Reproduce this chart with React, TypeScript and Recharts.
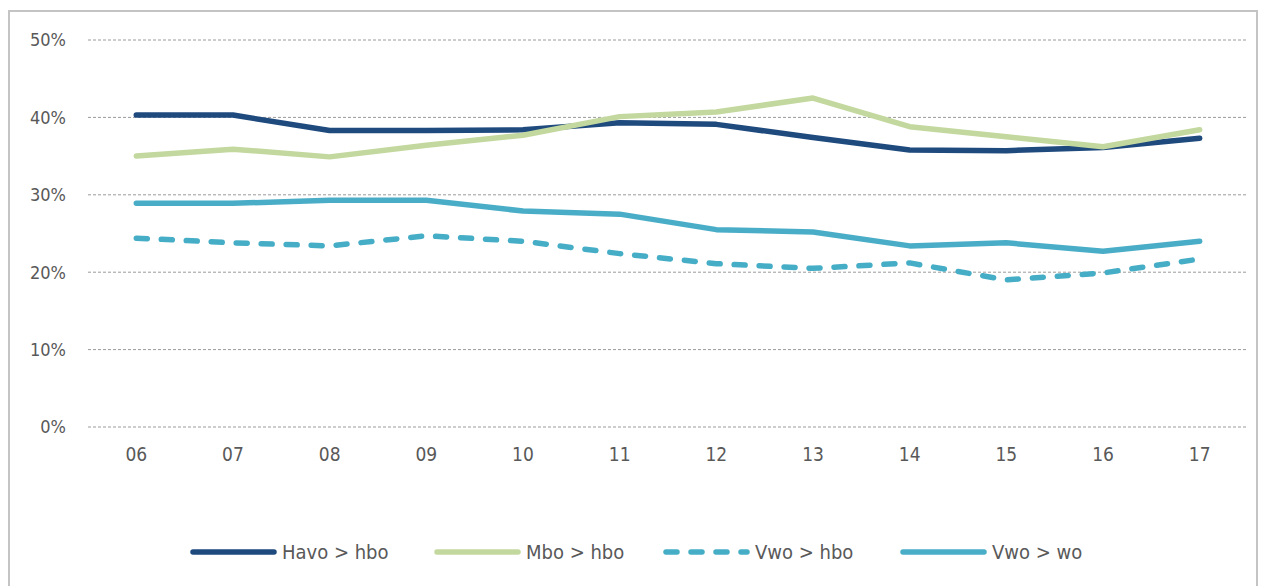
import React from "react";
import { LineChart, Line, XAxis, YAxis, CartesianGrid, Legend } from "recharts";

const categories = ["06", "07", "08", "09", "10", "11", "12", "13", "14", "15", "16", "17"];
const havoHbo = [40.3, 40.3, 38.3, 38.3, 38.4, 39.3, 39.1, 37.4, 35.8, 35.7, 36.1, 37.3];
const mboHbo = [35.0, 35.9, 34.9, 36.4, 37.7, 40.1, 40.7, 42.5, 38.8, 37.5, 36.2, 38.4];
const vwoHbo = [24.4, 23.8, 23.4, 24.7, 24.0, 22.4, 21.1, 20.5, 21.2, 19.0, 19.9, 21.7];
const vwoWo = [28.9, 28.9, 29.3, 29.3, 27.9, 27.5, 25.5, 25.2, 23.4, 23.8, 22.7, 24.0];
const yTicks = [0, 10, 20, 30, 40, 50];

const seriesNames = ["Havo > hbo", "Mbo > hbo", "Vwo > hbo", "Vwo > wo"];

const data = categories.map((c, i) => ({
  cat: c,
  havoHbo: havoHbo[i],
  mboHbo: mboHbo[i],
  vwoHbo: vwoHbo[i],
  vwoWo: vwoWo[i],
}));

const FONT = "'DejaVu Sans Condensed', 'DejaVu Sans', sans-serif";
const TEXT = "#595959";

const legendItems = [
  { name: seriesNames[0], color: "#1F4A7E", dash: undefined as string | undefined, x: 193 },
  { name: seriesNames[1], color: "#C3D89E", dash: undefined, x: 437 },
  { name: seriesNames[2], color: "#46ADC6", dash: "11 14", x: 666 },
  { name: seriesNames[3], color: "#4AADC7", dash: undefined, x: 903 },
];

const LegendContent = () => (
  <div style={{ position: "relative", width: 1262, height: 30 }}>
    {legendItems.map((it) => (
      <div
        key={it.name}
        style={{ position: "absolute", left: it.x - 4, top: 0, display: "flex", alignItems: "center", height: 30 }}
      >
        <svg width={92} height={12}>
          <line
            x1={4}
            y1={6}
            x2={85}
            y2={6}
            stroke={it.color}
            strokeWidth={5.5}
            strokeLinecap="round"
            strokeDasharray={it.dash}
          />
        </svg>
        <span style={{ fontFamily: FONT, fontSize: 20, color: TEXT, marginLeft: 1, whiteSpace: "nowrap" }}>
          {it.name}
        </span>
      </div>
    ))}
  </div>
);

export default function App() {
  return (
    <div style={{ position: "absolute", left: 0, top: 0, width: 1262, height: 586, overflow: "hidden", background: "#fff" }}>
      <div
        style={{
          position: "absolute",
          left: 8,
          top: 10,
          width: 1250,
          height: 600,
          border: "2px solid #c4c4c4",
          boxSizing: "border-box",
        }}
      />
      <div style={{ position: "absolute", left: 0, top: 0 }}>
        <LineChart
          width={1262}
          height={586}
          data={data}
          margin={{ top: 40, right: 14, left: 28, bottom: 127 }}
        >
          <CartesianGrid vertical={false} stroke="#9a9a9a" strokeDasharray="3 2" strokeWidth={1} />
          <XAxis
            dataKey="cat"
            axisLine={false}
            tickLine={false}
            tickSize={0}
            tickMargin={21}
            height={32}
            padding={{ left: 48.3, right: 48.3 }}
            interval={0}
            tick={{ fill: TEXT, fontSize: 19, fontFamily: FONT }}
          />
          <YAxis
            width={60}
            domain={[0, 50]}
            ticks={yTicks}
            tickFormatter={(v) => `${v}%`}
            axisLine={false}
            tickLine={false}
            tickSize={0}
            tickMargin={22}
            tick={{ fill: TEXT, fontSize: 18, fontFamily: FONT }}
          />
          <Legend
            verticalAlign="middle"
            layout="horizontal"
            content={<LegendContent />}
            wrapperStyle={{ top: 537, left: 0, width: 1262 }}
          />
          <Line
            dataKey="havoHbo"
            name={seriesNames[0]}
            stroke="#1F4A7E"
            strokeWidth={5.5}
            strokeLinecap="round"
            strokeLinejoin="round"
            dot={false}
            isAnimationActive={false}
          />
          <Line
            dataKey="mboHbo"
            name={seriesNames[1]}
            stroke="#C3D89E"
            strokeWidth={5.5}
            strokeLinecap="round"
            strokeLinejoin="round"
            dot={false}
            isAnimationActive={false}
          />
          <Line
            dataKey="vwoHbo"
            name={seriesNames[2]}
            stroke="#46ADC6"
            strokeWidth={5.5}
            strokeDasharray="11 14"
            strokeLinecap="round"
            strokeLinejoin="round"
            dot={false}
            isAnimationActive={false}
          />
          <Line
            dataKey="vwoWo"
            name={seriesNames[3]}
            stroke="#4AADC7"
            strokeWidth={5.5}
            strokeLinecap="round"
            strokeLinejoin="round"
            dot={false}
            isAnimationActive={false}
          />
        </LineChart>
      </div>
    </div>
  );
}
